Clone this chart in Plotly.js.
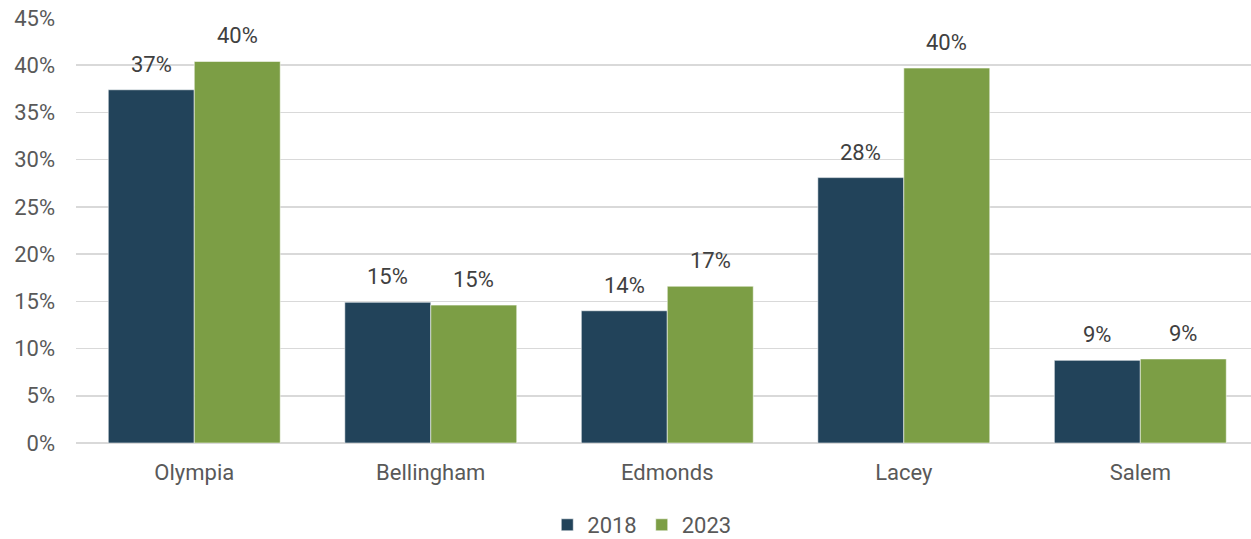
<!DOCTYPE html>
<html>
<head>
<meta charset="utf-8">
<script src="https://cdn.plot.ly/plotly-3.0.1.min.js"></script>
<style>html,body{margin:0;padding:0;background:#fff;}#chart{width:1251px;height:539px;}</style>
</head>
<body>
<div id="chart"></div>
<script>
var categories = ["Olympia", "Bellingham", "Edmonds", "Lacey", "Salem"];
var seriesNames = ["2018", "2023"];
var values2018 = [0.374, 0.149, 0.140, 0.281, 0.0875];
var values2023 = [0.404, 0.146, 0.166, 0.397, 0.089];
var yTickVals = [0, 0.05, 0.10, 0.15, 0.20, 0.25, 0.30, 0.35, 0.40, 0.45];

var colors = ["#22435A", "#7C9E45"];
var fontFam = "Roboto, 'Liberation Sans', sans-serif";
var fs = 22;

function pctLabel(v) { return Math.round(v * 100) + "%"; }

var allSeries = [values2018, values2023];
var traces = allSeries.map(function (vals, i) {
  return {
    type: "bar",
    name: seriesNames[i],
    x: categories,
    y: vals,
    marker: { color: colors[i], line: { color: "rgba(255,255,255,0.55)", width: 1 } },
    hoverinfo: "skip"
  };
});

var annotations = [];
allSeries.forEach(function (vals, i) {
  vals.forEach(function (v, j) {
    annotations.push({
      x: categories[j], y: v, xref: "x", yref: "y",
      text: pctLabel(v), showarrow: false,
      xanchor: "center", yanchor: "bottom",
      xshift: i === 0 ? -43 : 43, yshift: 11,
      font: { family: fontFam, size: fs, color: "#404040" }
    });
  });
});

var layout = {
  width: 1251, height: 539,
  margin: { l: 76, r: 0, t: 18, b: 96 },
  paper_bgcolor: "#ffffff", plot_bgcolor: "#ffffff",
  barmode: "group", bargap: 0.273, bargroupgap: 0,
  font: { family: fontFam, size: fs, color: "#595959" },
  xaxis: {
    type: "category", range: [-0.5, 4.468],
    showgrid: false, showline: false, zeroline: false,
    ticks: "", ticklabelstandoff: 14,
    tickfont: { family: fontFam, size: fs, color: "#595959" }
  },
  yaxis: {
    range: [0, 0.45], tickvals: yTickVals, tickformat: ".0%",
    showgrid: true, gridcolor: "#d9d9d9", gridwidth: 1.5,
    zeroline: true, zerolinecolor: "#d9d9d9", zerolinewidth: 1.5,
    showline: false, ticks: "", ticklabelstandoff: 20,
    tickfont: { family: fontFam, size: fs, color: "#595959" }
  },
  showlegend: true,
  legend: {
    orientation: "h", xref: "container", yref: "container",
    x: 0.513, xanchor: "center", y: 0.026, yanchor: "middle",
    font: { family: fontFam, size: fs, color: "#595959" },
    itemclick: false, itemdoubleclick: false, traceorder: "normal"
  },
  annotations: annotations
};

Plotly.newPlot("chart", traces, layout, { staticPlot: true, displayModeBar: false });
</script>
</body>
</html>
